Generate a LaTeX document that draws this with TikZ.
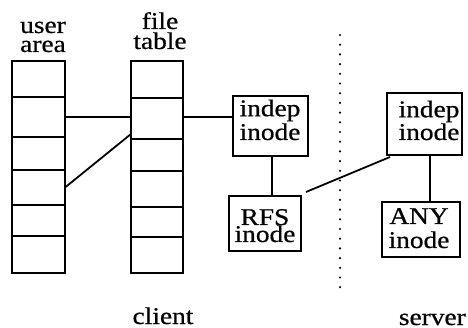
\documentclass[tikz,border=0pt]{standalone}
\usepackage{fontspec}
\setmainfont{Liberation Serif}[FakeStretch=1.14,FakeBold=0.6]
\begin{document}
\begin{tikzpicture}[x=1pt,y=-1pt,
  line width=1.8pt,
  cell/.style={draw,minimum width=53pt,inner sep=0pt,outer sep=0pt},
  fcell/.style={draw,minimum width=52pt,inner sep=0pt,outer sep=0pt},
  box/.style={draw,inner sep=0pt,outer sep=0pt},
  txt/.style={inner sep=0pt,anchor=base,align=center,font=\fontsize{24}{20}\selectfont},
  link/.style={line width=1.8pt},
  sep/.style={line width=2.4pt,line cap=round,dash pattern=on 0pt off 9.7pt}]
\useasboundingbox (0,0) rectangle (468,328);
% user area column
\node[cell,minimum height=36pt] (u1) at (38.5,79) {};
\node[cell,minimum height=40pt] (u2) at (38.5,117) {};
\node[cell,minimum height=33pt] (u3) at (38.5,153.5) {};
\node[cell,minimum height=35pt] (u4) at (38.5,187.5) {};
\node[cell,minimum height=31pt] (u5) at (38.5,220.5) {};
\node[cell,minimum height=37pt] (u6) at (38.5,254.5) {};
% file table column
\node[fcell,minimum height=37pt] (f1) at (157,79.5) {};
\node[fcell,minimum height=41pt] (f2) at (157,118.5) {};
\node[fcell,minimum height=32pt] (f3) at (157,155) {};
\node[fcell,minimum height=36pt] (f4) at (157,189) {};
\node[fcell,minimum height=30pt] (f5) at (157,222) {};
\node[fcell,minimum height=36pt] (f6) at (157,255) {};
% headings (base = last line)
\node[txt] (tuser) at (43,52) {user\\[-1pt]area};
\node[txt] (tfile) at (160,49) {file\\table};
% inode boxes
\node[box,minimum width=75pt,minimum height=60pt] (ci) at (270.5,126) {};
\node[txt] (cit) at (270,140) {indep\\[1pt]inode};
\node[box,minimum width=72pt,minimum height=55pt] (rfs) at (265,223.5) {};
\node[txt] (rft) at (265,242) {RFS\\[-3pt]inode};
\node[box,minimum width=75pt,minimum height=62pt] (si) at (424.5,124) {};
\node[txt] (sit) at (429,140) {indep\\inode};
\node[box,minimum width=78pt,minimum height=55pt] (any) at (421,229.5) {};
\node[txt] (ant) at (419,248) {ANY\\[4pt]inode};
% bottom labels
\node[txt] (client) at (163,324) {client};
\node[txt,anchor=base west] (server) at (398,325) {server};
% connectors
\coordinate (fa) at (131,134);
\draw[link] (u2.east) -- (u2.east -| f2.west);
\draw[link] (u4.east) -- (fa);
\draw[link] (f2.east |- u2.east) -- (ci.west |- u2.east);
\coordinate (cx) at (272,0);
\draw[link] (ci.south -| cx) -- (rfs.north -| cx);
\coordinate (rs) at (306,192);
\coordinate (se) at (390,157);
\draw[link] (rs) -- (se);
\coordinate (sx) at (430,0);
\draw[link] (si.south -| sx) -- (any.north -| sx);
% dotted separator
\coordinate (dtop) at (340,35);
\coordinate (dbot) at (340,288);
\draw[sep] (dtop) -- (dbot);
\end{tikzpicture}
\end{document}
